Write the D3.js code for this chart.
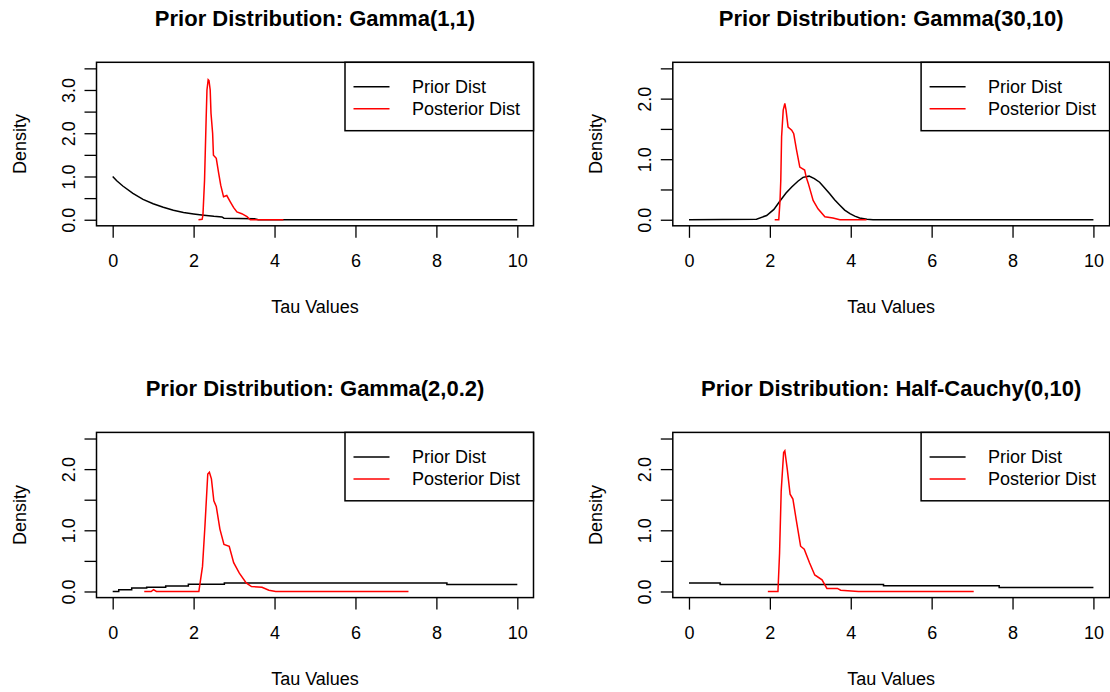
<!DOCTYPE html>
<html>
<head>
<meta charset="utf-8">
<script src="https://cdn.jsdelivr.net/npm/d3@7"></script>
<style>
  html, body { margin: 0; padding: 0; background: #fff; }
  svg { display: block; }
  text { font-family: "Liberation Sans", Arial, sans-serif; fill: #000; }
</style>
</head>
<body>
<svg id="chart" width="1110" height="692"></svg>
<script>
// ---- data ---------------------------------------------------------------
const tauTicks = [0, 2, 4, 6, 8, 10];
const densTicksTall = [0, 0.5, 1, 1.5, 2, 2.5, 3, 3.5];
const densTicksShort = [0, 0.5, 1, 1.5, 2, 2.5];
const densLabelsTall = [0, 1, 2, 3];
const densLabelsShort = [0, 1, 2];

const panelTitles = [
  "Prior Distribution: Gamma(1,1)",
  "Prior Distribution: Gamma(30,10)",
  "Prior Distribution: Gamma(2,0.2)",
  "Prior Distribution: Half-Cauchy(0,10)"
];
const legendLabels = ["Prior Dist", "Posterior Dist"];

// Gamma(1,1)
const g11PriorTau  = [0, 0.1, 0.25, 0.5, 0.75, 1, 1.25, 1.5, 1.75, 2, 2.25, 2.5, 2.7, 2.75, 3.1, 3.5, 3.6, 10];
const g11PriorDens = [1.0, 0.9, 0.78, 0.61, 0.47, 0.37, 0.29, 0.22, 0.17, 0.135, 0.105, 0.08, 0.065, 0.035, 0.03, 0.025, 0, 0];
const g11PostTau   = [2.12, 2.21, 2.23, 2.27, 2.31, 2.33, 2.36, 2.38, 2.41, 2.43, 2.47, 2.49, 2.56, 2.62, 2.67, 2.74, 2.82, 2.91, 2.99, 3.07, 3.19, 3.32, 3.40, 4.22];
const g11PostDens  = [0, 0.01, 0.1, 0.91, 2.34, 3.0, 3.24, 3.22, 3.0, 2.46, 2.0, 1.49, 1.42, 1.07, 0.80, 0.53, 0.56, 0.41, 0.28, 0.18, 0.14, 0.07, 0, 0];

// Gamma(30,10)
const g3010PriorTau  = [0, 1.67, 1.92, 2.1, 2.25, 2.4, 2.54, 2.7, 2.82, 2.97, 3.1, 3.23, 3.35, 3.48, 3.6, 3.73, 3.85, 3.98, 4.1, 4.22, 4.4, 4.55, 10];
const g3010PriorDens = [0, 0.01, 0.07, 0.17, 0.31, 0.44, 0.54, 0.64, 0.70, 0.72, 0.68, 0.62, 0.53, 0.43, 0.33, 0.24, 0.16, 0.10, 0.06, 0.03, 0.01, 0, 0];
const g3010PostTau   = [2.12, 2.22, 2.25, 2.27, 2.29, 2.33, 2.37, 2.40, 2.45, 2.54, 2.59, 2.66, 2.74, 2.86, 2.90, 2.95, 3.07, 3.19, 3.36, 3.56, 3.73, 4.39];
const g3010PostDens  = [0, 0, 0.3, 0.65, 1.37, 1.81, 1.92, 1.81, 1.53, 1.48, 1.42, 1.15, 0.87, 0.82, 0.70, 0.60, 0.32, 0.18, 0.05, 0.03, 0, 0];

// Gamma(2,0.2) — prior drawn as steps
const g202PriorTau  = [0, 0.15, 0.47, 0.84, 1.31, 1.87, 2.76, 8.26, 10];
const g202PriorDens = [0, 0.03, 0.055, 0.07, 0.09, 0.12, 0.14, 0.115, 0.115];
const g202PostTau   = [0.78, 0.95, 1.01, 1.08, 2.13, 2.22, 2.28, 2.35, 2.39, 2.44, 2.50, 2.56, 2.65, 2.75, 2.88, 2.99, 3.13, 3.30, 3.43, 3.69, 3.86, 4.03, 7.31];
const g202PostDens  = [0, 0, 0.03, 0, 0, 0.41, 1.07, 1.92, 1.95, 1.84, 1.48, 1.39, 1.02, 0.77, 0.74, 0.47, 0.30, 0.14, 0.08, 0.07, 0.02, 0, 0];

// Half-Cauchy(0,10) — prior drawn as steps
const hcPriorTau  = [0, 0.77, 4.81, 7.67, 10];
const hcPriorDens = [0.14, 0.115, 0.095, 0.066, 0.066];
const hcPostTau   = [1.95, 2.20, 2.24, 2.28, 2.34, 2.37, 2.43, 2.50, 2.57, 2.65, 2.76, 2.85, 2.98, 3.11, 3.29, 3.41, 3.67, 3.75, 4.19, 7.04];
const hcPostDens  = [0, 0, 0.63, 1.64, 2.27, 2.30, 2.0, 1.59, 1.51, 1.18, 0.74, 0.69, 0.47, 0.27, 0.19, 0.05, 0.05, 0.02, 0, 0];

// ---- layout -------------------------------------------------------------
const colX = [[96.5, 533.5], [672.8, 1109.6]];
const rowY = [[62.3, 225.8], [432.4, 597.6]];

const zip = (xs, ys) => xs.map((x, i) => [x, ys[i]]);

const panels = [
  { title: panelTitles[0], col: 0, row: 0, yMax: 3.5, yTicks: densTicksTall, yLabels: densLabelsTall,
    prior: zip(g11PriorTau, g11PriorDens), priorStep: false, post: zip(g11PostTau, g11PostDens) },
  { title: panelTitles[1], col: 1, row: 0, yMax: 2.5, yTicks: densTicksShort, yLabels: densLabelsShort,
    prior: zip(g3010PriorTau, g3010PriorDens), priorStep: false, post: zip(g3010PostTau, g3010PostDens) },
  { title: panelTitles[2], col: 0, row: 1, yMax: 2.5, yTicks: densTicksShort, yLabels: densLabelsShort,
    prior: zip(g202PriorTau, g202PriorDens), priorStep: true, post: zip(g202PostTau, g202PostDens) },
  { title: panelTitles[3], col: 1, row: 1, yMax: 2.5, yTicks: densTicksShort, yLabels: densLabelsShort,
    prior: zip(hcPriorTau, hcPriorDens), priorStep: true, post: zip(hcPostTau, hcPostDens) }
];

const svg = d3.select("#chart");
const FS = 18;

panels.forEach(p => {
  const [x0, x1] = colX[p.col];
  const [y0, y1] = rowY[p.row];
  const g = svg.append("g");

  // R-style 4% padding on both scales
  const x = d3.scaleLinear().domain([-0.4, 10.4]).range([x0, x1]);
  const y = d3.scaleLinear().domain([-0.04 * p.yMax, 1.04 * p.yMax]).range([y1, y0]);

  // title
  g.append("text")
    .attr("x", (x0 + x1) / 2).attr("y", y0 - 36.5)
    .attr("text-anchor", "middle")
    .style("font-size", "22px").style("font-weight", "bold")
    .text(p.title);

  // x axis
  const xa = g.append("g").attr("transform", `translate(0,${y1})`)
    .call(d3.axisBottom(x).tickValues(tauTicks).tickSize(12).tickSizeOuter(0));
  xa.select(".domain").remove();
  xa.selectAll(".tick line").attr("stroke", "#000").attr("stroke-width", 1.3);
  xa.selectAll(".tick text")
    .attr("y", 41.5).attr("dy", 0)
    .style("font-size", FS + "px").attr("fill", "#000");

  // y axis with rotated labels
  const ya = g.append("g").attr("transform", `translate(${x0},0)`)
    .call(d3.axisLeft(y).tickValues(p.yTicks).tickSize(12).tickSizeOuter(0)
      .tickFormat(d => p.yLabels.includes(d) ? d3.format(".1f")(d) : ""));
  ya.select(".domain").remove();
  ya.selectAll(".tick line").attr("stroke", "#000").attr("stroke-width", 1.3);
  ya.selectAll(".tick text")
    .attr("x", null).attr("dy", null).attr("y", null)
    .attr("text-anchor", "middle")
    .attr("transform", "translate(-21.5,0) rotate(-90)")
    .style("font-size", FS + "px").attr("fill", "#000");

  // axis titles
  g.append("text")
    .attr("x", (x0 + x1) / 2).attr("y", y1 + 87.5)
    .attr("text-anchor", "middle").style("font-size", FS + "px")
    .text("Tau Values");
  g.append("text")
    .attr("transform", `translate(${x0 - 71},${(y0 + y1) / 2}) rotate(-90)`)
    .attr("text-anchor", "middle").style("font-size", FS + "px")
    .text("Density");

  // curves
  const line = d3.line().x(d => x(d[0])).y(d => y(d[1]));
  g.append("path").datum(p.prior)
    .attr("fill", "none").attr("stroke", "#000").attr("stroke-width", 1.5)
    .attr("d", line.curve(p.priorStep ? d3.curveStepAfter : d3.curveLinear));
  g.append("path").datum(p.post)
    .attr("fill", "none").attr("stroke", "#ff0000").attr("stroke-width", 1.5)
    .attr("d", d3.line().x(d => x(d[0])).y(d => y(d[1]))(p.post));

  // plot box
  g.append("rect")
    .attr("x", x0).attr("y", y0).attr("width", x1 - x0).attr("height", y1 - y0)
    .attr("fill", "none").attr("stroke", "#000").attr("stroke-width", 1.5);

  // legend (top right)
  const lw = 188.5, lh = 68.4;
  const lg = g.append("g");
  lg.append("rect")
    .attr("x", x1 - lw).attr("y", y0).attr("width", lw).attr("height", lh)
    .attr("fill", "#fff").attr("stroke", "#000").attr("stroke-width", 1.5);
  ["#000", "#ff0000"].forEach((c, i) => {
    const cy = y0 + 24.5 + i * 22;
    lg.append("line")
      .attr("x1", x1 - 180).attr("x2", x1 - 144)
      .attr("y1", cy).attr("y2", cy)
      .attr("stroke", c).attr("stroke-width", 1.5);
    lg.append("text")
      .attr("x", x1 - 121.5).attr("y", cy + 6.5)
      .style("font-size", FS + "px")
      .text(legendLabels[i]);
  });
});
</script>
</body>
</html>
